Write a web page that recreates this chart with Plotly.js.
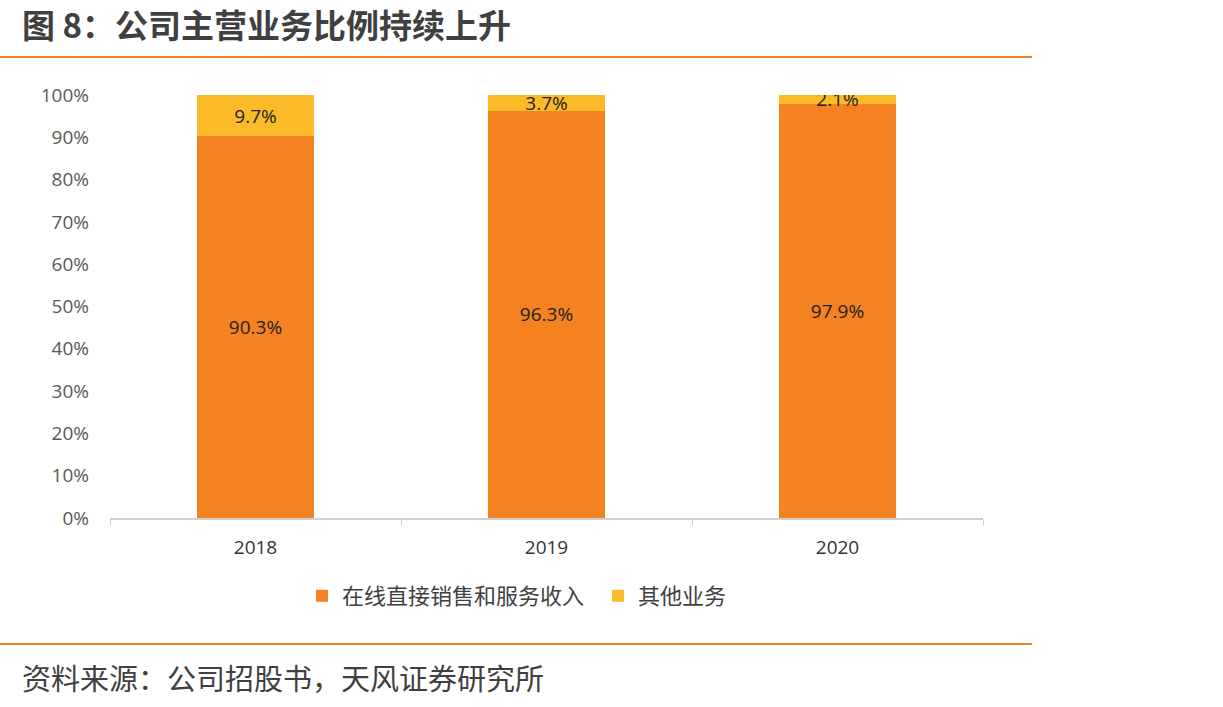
<!DOCTYPE html>
<html>
<head>
<meta charset="utf-8">
<script src="https://cdn.plot.ly/plotly-3.0.1.min.js"></script>
<style>
  html, body { margin: 0; padding: 0; background: #ffffff; }
  #chart { width: 1223px; height: 707px; }
</style>
</head>
<body>
<div id="chart"></div>
<script>
// Revenue mix by year (share of total revenue)
const years = ['2018', '2019', '2020'];
const onlineSales = [0.903, 0.963, 0.979];   // 在线直接销售和服务收入
const otherBiz = [0.097, 0.037, 0.021];      // 其他业务
const seriesNames = ['在线直接销售和服务收入', '其他业务'];
const yTickVals = [0, 0.1, 0.2, 0.3, 0.4, 0.5, 0.6, 0.7, 0.8, 0.9, 1.0];

const fmt = v => (v * 100).toFixed(1) + '%';
const cjk = '"Noto Sans CJK SC", "Noto Sans", sans-serif';
const num = '"Open Sans", "Noto Sans", sans-serif';

const labelFont = { family: num, size: 19, color: '#222222' };

const traces = [
  {
    type: 'bar', name: seriesNames[0], x: years, y: onlineSales,
    marker: { color: '#F58220' },
    text: onlineSales.map(fmt), textposition: 'inside', insidetextanchor: 'middle',
    textangle: 0, constraintext: 'none', textfont: labelFont,
    hoverinfo: 'skip'
  },
  {
    type: 'bar', name: seriesNames[1], x: years, y: otherBiz,
    marker: { color: '#FBBA28' },
    text: otherBiz.map(fmt), textposition: 'inside', insidetextanchor: 'middle',
    textangle: 0, constraintext: 'none', textfont: labelFont,
    hoverinfo: 'skip'
  }
];

// pixel helpers for paper coordinates (plot area 110..983 x 95..518)
const L = 110, R = 983, T = 95, B = 518;
const px = x => (x - L) / (R - L);
const py = y => (B - y) / (B - T);

const layout = {
  width: 1223, height: 707,
  margin: { l: L, r: 1223 - R, t: T, b: 707 - B, pad: 0 },
  paper_bgcolor: '#ffffff', plot_bgcolor: '#ffffff',
  barmode: 'stack', bargap: 0.6,
  showlegend: true,
  legend: {
    orientation: 'h', x: px(302), xanchor: 'left', y: py(596), yanchor: 'middle',
    font: { family: cjk, size: 22, color: '#404040' },
    traceorder: 'normal', itemwidth: 30,
    entrywidth: 251, entrywidthmode: 'pixels'
  },
  xaxis: {
    type: 'category', tickson: 'boundaries', ticks: 'outside', ticklen: 6,
    tickcolor: '#d0d0d0', showline: true, linecolor: '#d0d0d0', linewidth: 1.5,
    showgrid: false, zeroline: false, ticklabelstandoff: 12,
    tickfont: { family: num, size: 19, color: '#333333' }
  },
  yaxis: {
    range: [0, 1], tickvals: yTickVals, tickformat: '.0%',
    showgrid: false, zeroline: false, showline: false, ticks: '',
    ticklabelstandoff: 20,
    tickfont: { family: num, size: 19, color: '#595959' }
  },
  annotations: [
    {
      // chart heading
      text: '<b>图 8：公司主营业务比例持续上升</b>',
      xref: 'paper', yref: 'paper', x: px(20), y: py(24),
      xanchor: 'left', yanchor: 'middle', showarrow: false,
      font: { family: cjk, size: 33, color: '#404040' }
    },
    {
      text: '资料来源：公司招股书，天风证券研究所',
      xref: 'paper', yref: 'paper', x: px(20), y: py(677),
      xanchor: 'left', yanchor: 'middle', showarrow: false,
      font: { family: cjk, size: 29, color: '#404040' }
    }
  ],
  shapes: [
    { type: 'line', xref: 'paper', yref: 'paper', x0: px(0), x1: px(1032), y0: py(57), y1: py(57),
      line: { color: '#F58220', width: 2 } },
    { type: 'line', xref: 'paper', yref: 'paper', x0: px(0), x1: px(1032), y0: py(644), y1: py(644),
      line: { color: '#F58220', width: 2 } }
  ]
};

Plotly.newPlot('chart', traces, layout, { displayModeBar: false, staticPlot: true });
</script>
</body>
</html>
